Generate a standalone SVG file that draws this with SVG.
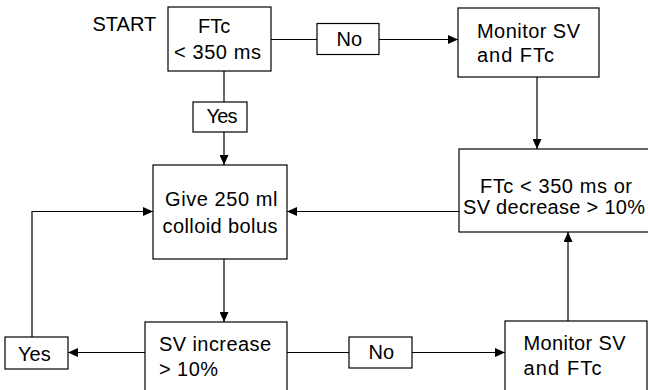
<svg xmlns="http://www.w3.org/2000/svg" width="648" height="390" viewBox="0 0 648 390">
<style>
.box{fill:#fff;stroke:#000;stroke-width:1.2}
.t{font-family:"Liberation Sans",Arial,sans-serif;font-size:20px;fill:#000}
.c{fill:none;stroke:#000;stroke-width:1.2}
.a{marker-end:url(#ah)}
</style>
<defs>
<marker id="ah" markerUnits="userSpaceOnUse" markerWidth="10" markerHeight="9" refX="10" refY="4.5" orient="auto" viewBox="0 0 10 9">
<path d="M0,0 L10,4.5 L0,9 z" fill="#000"/>
</marker>
</defs>
<rect width="648" height="390" fill="#fff"/>
<g id="connectors">
<line class="c" x1="271" y1="39.5" x2="317" y2="39.5"/>
<line class="c a" x1="379" y1="39.5" x2="458" y2="39.5"/>
<line class="c" x1="224" y1="71" x2="224" y2="102"/>
<line class="c a" x1="224" y1="132" x2="224" y2="165"/>
<line class="c a" x1="537" y1="77" x2="537" y2="149"/>
<line class="c a" x1="459" y1="211.5" x2="287" y2="211.5"/>
<line class="c a" x1="224" y1="259" x2="224" y2="322"/>
<line class="c a" x1="145" y1="352.5" x2="68" y2="352.5"/>
<polyline class="c a" points="32,337 32,211.5 153,211.5"/>
<line class="c" x1="287" y1="352.5" x2="349" y2="352.5"/>
<line class="c a" x1="412" y1="352.5" x2="505" y2="352.5"/>
<line class="c a" x1="568" y1="321" x2="568" y2="232"/>
</g>
<g id="start"><text class="t" x="92.5" y="31">START</text></g>
<g id="ftc">
<rect class="box" x="168" y="7" width="103" height="64"/>
<text class="t" x="198" y="33">FTc</text>
<text class="t" x="174" y="58.5" textLength="87">&lt; 350 ms</text>
</g>
<g id="no-top">
<rect class="box" x="317" y="23.5" width="62" height="31"/>
<text class="t" x="336.5" y="45.5">No</text>
</g>
<g id="yes-top">
<rect class="box" x="193" y="102" width="54" height="30"/>
<text class="t" x="206.5" y="123" textLength="31">Yes</text>
</g>
<g id="monitor-top">
<rect class="box" x="458" y="8" width="141" height="69"/>
<text class="t" x="477" y="37.5" textLength="103">Monitor SV</text>
<text class="t" x="477" y="62" textLength="77">and FTc</text>
</g>
<g id="check">
<rect class="box" x="459" y="149" width="200" height="83"/>
<text class="t" x="480" y="192.5" textLength="152">FTc &lt; 350 ms or</text>
<text class="t" x="463" y="214" textLength="182">SV decrease &gt; 10%</text>
</g>
<g id="give">
<rect class="box" x="153" y="165" width="134" height="94"/>
<text class="t" x="165" y="206" textLength="112.5">Give 250 ml</text>
<text class="t" x="162.5" y="232.5" textLength="115">colloid bolus</text>
</g>
<g id="sv-increase">
<rect class="box" x="145" y="322" width="142" height="72"/>
<text class="t" x="159" y="351" textLength="112">SV increase</text>
<text class="t" x="159" y="375.5" textLength="59">&gt; 10%</text>
</g>
<g id="yes-bottom">
<rect class="box" x="5" y="337" width="63" height="32"/>
<text class="t" x="18" y="361">Yes</text>
</g>
<g id="no-bottom">
<rect class="box" x="349" y="337" width="63" height="31"/>
<text class="t" x="368.5" y="358.5">No</text>
</g>
<g id="monitor-bottom">
<rect class="box" x="505" y="321" width="142" height="73"/>
<text class="t" x="523.5" y="350" textLength="102">Monitor SV</text>
<text class="t" x="523.5" y="374.5" textLength="78">and FTc</text>
</g>
</svg>
